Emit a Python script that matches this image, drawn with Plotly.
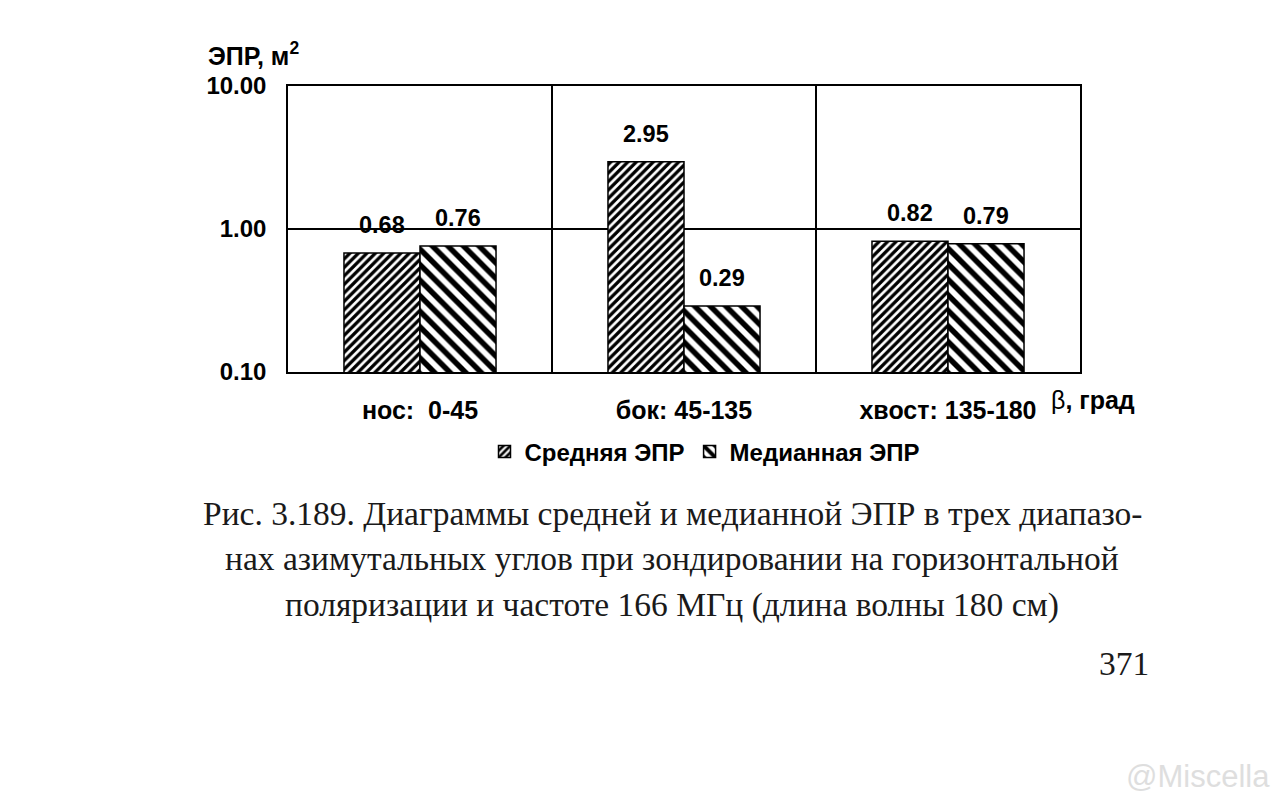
import math
import plotly.graph_objects as go

# ---- data ----
categories = ["нос:  0-45", "бок: 45-135", "хвост: 135-180"]
mean_epr = [0.68, 2.95, 0.82]
median_epr = [0.76, 0.29, 0.79]
series_names = ["Средняя ЭПР", "Медианная ЭПР"]
y_tickvals = [0.1, 1, 10]
y_ticktext = ["0.10", "1.00", "10.00"]
y_title = "ЭПР, м<sup>2</sup>"
x_title = "β<b>, град</b>"
caption_lines = [
    "Рис. 3.189. Диаграммы средней и медианной ЭПР в трех диапазо-",
    "нах азимутальных углов при зондировании на горизонтальной",
    "поляризации и частоте 166 МГц (длина волны 180 см)",
]
page_number = "371"
watermark = "@Miscella"

# ---- layout geometry ----
W, H = 1284, 804
L, R, T, B = 288, 204, 86, 432
PW, PH = W - L - R, H - T - B
bargap = 0.424
SANS = "Liberation Sans, Arial, sans-serif"
SERIF = "Liberation Serif, Times New Roman, serif"


def px_to_paper(px, py):
    return (px - L) / PW, (H - B - py) / PH


fig = go.Figure()
fig.add_trace(go.Bar(
    name=series_names[0], x=categories, y=mean_epr,
    marker=dict(color="white", opacity=1, line=dict(color="black", width=1.5),
                pattern=dict(shape="/", size=6, solidity=0.55, fillmode="replace",
                             fgcolor="#000000", fgopacity=1, bgcolor="white")),
))
fig.add_trace(go.Bar(
    name=series_names[1], x=categories, y=median_epr,
    marker=dict(color="white", opacity=1, line=dict(color="black", width=1.5),
                pattern=dict(shape="\\", size=11, solidity=0.5, fillmode="replace",
                             fgcolor="#000000", fgopacity=1, bgcolor="white")),
))

annotations = []
bar_px = PW / len(categories) * (1 - bargap) / 2
for i, vals in enumerate([mean_epr, median_epr]):
    for c, v in zip(categories, vals):
        annotations.append(dict(
            x=c, y=math.log10(v), xref="x", yref="y",
            text=f"{v:.2f}", showarrow=False,
            xshift=(i - 0.5) * bar_px, yshift=28,
            font=dict(family=SANS, size=23.5, color="black", weight="bold"),
        ))

ax, ay = px_to_paper(206, 54)
annotations.append(dict(x=ax, y=ay, xref="paper", yref="paper", xanchor="left",
                        yanchor="middle", showarrow=False, text=y_title,
                        font=dict(family=SANS, size=25, color="black", weight="bold")))
ax, ay = px_to_paper(1049, 400)
annotations.append(dict(x=ax, y=ay, xref="paper", yref="paper", xanchor="left",
                        yanchor="middle", showarrow=False, text=x_title,
                        font=dict(family=SANS, size=25, color="black")))

for line, py in zip(caption_lines, [513, 558, 605]):
    ax, ay = px_to_paper(672, py)
    annotations.append(dict(x=ax, y=ay, xref="paper", yref="paper", xanchor="center",
                            yanchor="middle", showarrow=False, text=line,
                            font=dict(family=SERIF, size=33.5, color="#1a1a1a")))
ax, ay = px_to_paper(1151, 663)
annotations.append(dict(x=ax, y=ay, xref="paper", yref="paper", xanchor="right",
                        yanchor="middle", showarrow=False, text=page_number,
                        font=dict(family=SERIF, size=33.5, color="#1a1a1a")))
ax, ay = px_to_paper(1272, 776)
annotations.append(dict(x=ax, y=ay, xref="paper", yref="paper", xanchor="right",
                        yanchor="middle", showarrow=False, text=watermark,
                        font=dict(family=SANS, size=31, color="#dedede")))

lx, ly = px_to_paper(705, 452)
fig.update_layout(
    width=W, height=H,
    margin=dict(l=L, r=R, t=T, b=B, pad=0),
    paper_bgcolor="white", plot_bgcolor="white",
    barmode="group", bargap=bargap, bargroupgap=0,
    showlegend=True,
    legend=dict(orientation="h", xref="paper", yref="paper",
                x=lx, y=ly, xanchor="center", yanchor="middle",
                font=dict(family=SANS, size=24, color="black", weight="bold"),
                itemwidth=30, tracegroupgap=0, bgcolor="rgba(0,0,0,0)"),
    annotations=annotations,
    xaxis=dict(type="category", tickson="boundaries", showgrid=True, automargin=False,
               gridcolor="black", gridwidth=1.5, showline=True, linecolor="black",
               linewidth=1.5, mirror=True, ticks="", ticklabelstandoff=15,
               tickfont=dict(family=SANS, size=25, color="black", weight="bold")),
    yaxis=dict(type="log", range=[-1, 1], tickvals=y_tickvals, ticktext=y_ticktext,
               showgrid=True, gridcolor="black", gridwidth=1.5, showline=True,
               automargin=False,
               linecolor="black", linewidth=1.5, mirror=True, ticks="",
               ticklabelstandoff=15, zeroline=False,
               tickfont=dict(family=SANS, size=24, color="black", weight="bold")),
)

fig.write_html("out.html", config={"displayModeBar": False},
               post_script="document.body.style.margin='0';"
                           "document.body.style.overflow='hidden';")
